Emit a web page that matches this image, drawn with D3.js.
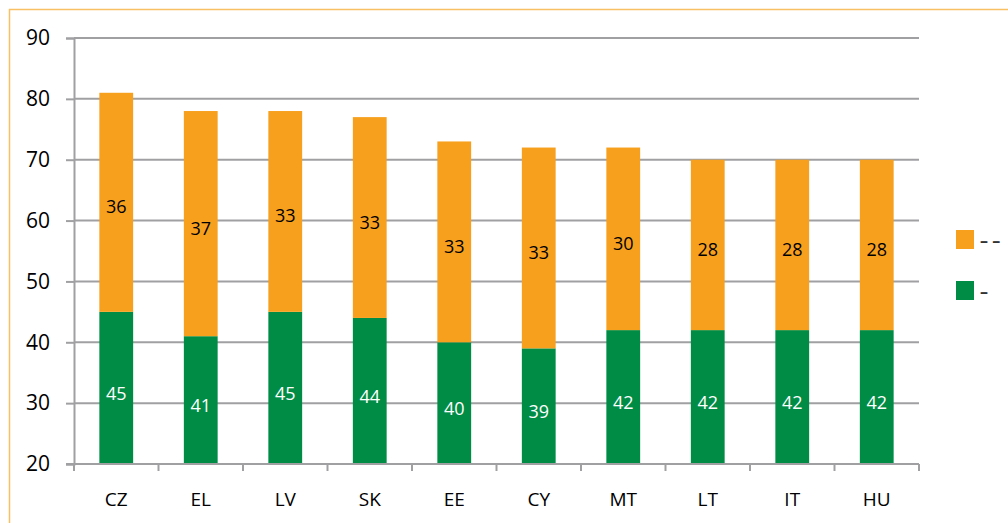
<!DOCTYPE html>
<meta charset="utf-8">
<head>
  <script src="https://d3js.org/d3.v7.min.js"></script>
  <style>
    body { margin: 0; background: #fff; }
    text { font-family: "Open Sans", "Noto Sans", sans-serif; }
  </style>
</head>
<body>
<div id="container"></div>
<script>
// data
var countries = ["CZ", "EL", "LV", "SK", "EE", "CY", "MT", "LT", "IT", "HU"];
var lower = [45, 41, 45, 44, 40, 39, 42, 42, 42, 42];   // green
var upper = [36, 37, 33, 33, 33, 33, 30, 28, 28, 28];   // orange
var yTicks = [20, 30, 40, 50, 60, 70, 80, 90];
var legendLabels = ["– –", "–"];

var width = 1008, height = 523;
var margin = { left: 74, right: 89, top: 38, bottom: 59 };
var orange = "#F7A01E", green = "#008C45", gridCol = "#A0A0A3";

var svg = d3.select("#container").append("svg")
  .attr("width", width).attr("height", height);

// outer frame
svg.append("rect")
  .attr("x", 9.5).attr("y", 9.5)
  .attr("width", width + 20).attr("height", height + 20)
  .attr("fill", "none").attr("stroke", "#F9BF63").attr("stroke-width", 1.5);

var x = d3.scaleBand().domain(countries)
  .range([margin.left, width - margin.right]).paddingInner(0.6).paddingOuter(0.3);
var y = d3.scaleLinear().domain([20, 90]).range([height - margin.bottom, margin.top]);

// gridlines
svg.append("g").selectAll("line").data(yTicks.slice(1)).join("line")
  .attr("x1", margin.left).attr("x2", width - margin.right)
  .attr("y1", d => y(d)).attr("y2", d => y(d))
  .attr("stroke", gridCol).attr("stroke-width", 2);

var rows = countries.map((c, i) => ({ c: c, lo: lower[i], up: upper[i] }));

// stacked bars
svg.append("g").selectAll("rect").data(rows).join("rect")
  .attr("x", d => x(d.c)).attr("width", x.bandwidth())
  .attr("y", d => y(d.lo)).attr("height", d => y(20) - y(d.lo))
  .attr("fill", green);
svg.append("g").selectAll("rect").data(rows).join("rect")
  .attr("x", d => x(d.c)).attr("width", x.bandwidth())
  .attr("y", d => y(d.lo + d.up)).attr("height", d => y(d.lo) - y(d.lo + d.up))
  .attr("fill", orange);

// value labels
svg.append("g").selectAll("text").data(rows).join("text")
  .attr("x", d => x(d.c) + x.bandwidth() / 2)
  .attr("y", d => (y(20) + y(d.lo)) / 2 + 12)
  .attr("text-anchor", "middle").attr("font-size", 18).attr("fill", "#fff")
  .text(d => d.lo);
svg.append("g").selectAll("text").data(rows).join("text")
  .attr("x", d => x(d.c) + x.bandwidth() / 2)
  .attr("y", d => (y(d.lo) + y(d.lo + d.up)) / 2 + 11)
  .attr("text-anchor", "middle").attr("font-size", 18).attr("fill", "#000")
  .text(d => d.up);

// y axis
var yAxis = svg.append("g").attr("transform", "translate(" + margin.left + ",0)")
  .call(d3.axisLeft(y).tickValues(yTicks).tickSize(8).tickPadding(16));
yAxis.select(".domain").attr("stroke", gridCol).attr("stroke-width", 2);
yAxis.selectAll(".tick line").attr("stroke", gridCol).attr("stroke-width", 2);
yAxis.selectAll("text").attr("font-size", 21).attr("fill", "#000")
  .style("font-family", "'Open Sans', sans-serif");

// x axis: ticks on band boundaries
var xg = svg.append("g").attr("transform", "translate(0," + y(20) + ")");
xg.append("line").attr("x1", margin.left - 8).attr("x2", width - margin.right)
  .attr("stroke", gridCol).attr("stroke-width", 2);
var bounds = d3.range(countries.length + 1).map(i => margin.left + i * (width - margin.left - margin.right) / countries.length);
xg.selectAll(".xt").data(bounds).join("line").attr("class", "xt")
  .attr("x1", d => d).attr("x2", d => d).attr("y1", 0).attr("y2", 7)
  .attr("stroke", gridCol).attr("stroke-width", 2);
xg.selectAll("text").data(countries).join("text")
  .attr("x", d => x(d) + x.bandwidth() / 2).attr("y", 42)
  .attr("text-anchor", "middle").attr("font-size", 19).attr("fill", "#000")
  .text(d => d);

// legend
var leg = svg.append("g");
[orange, green].forEach(function (col, i) {
  leg.append("rect").attr("x", 956).attr("y", 230 + i * 51)
    .attr("width", 18).attr("height", 19).attr("fill", col);
  leg.append("text").attr("x", 980).attr("y", 246 + i * 51)
    .attr("font-size", 16).attr("font-weight", "bold").attr("fill", "#333").text(legendLabels[i]);
});
</script>
</body>
